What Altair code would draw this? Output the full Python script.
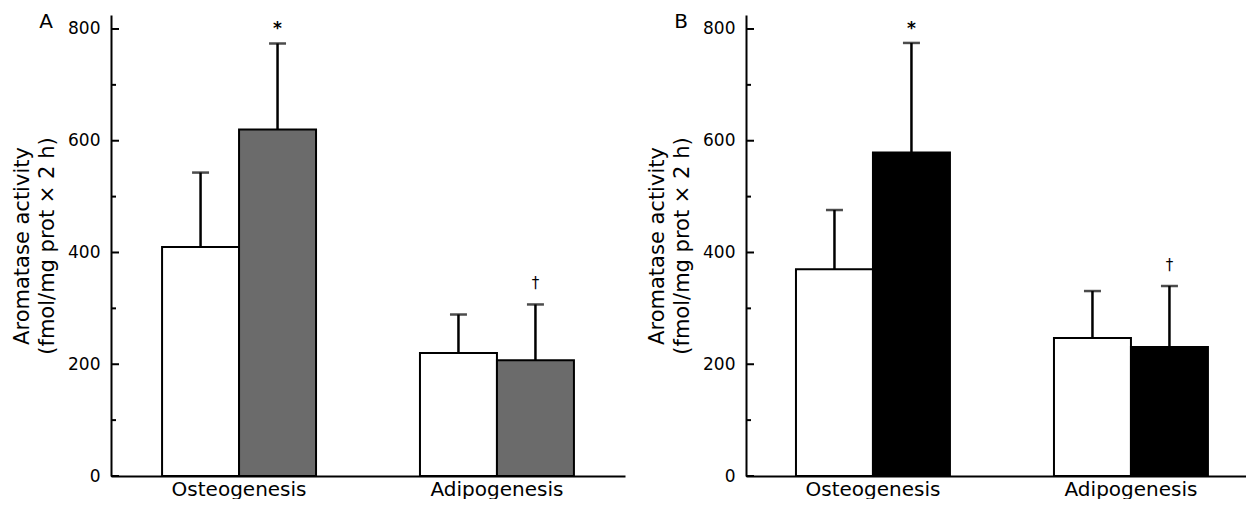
import altair as alt
import pandas as pd

categories = ["Osteogenesis", "Adipogenesis"]
groups = ["Control", "Treated"]

# Panel A values (mean, SD) in order: Osteo-Control, Osteo-Treated, Adipo-Control, Adipo-Treated
a_means = [410, 620, 220, 207]
a_errs = [133, 154, 69, 100]
# Panel B values
b_means = [370, 579, 247, 231]
b_errs = [106, 196, 84, 109]
markers = ["", "*", "", "†"]

y_label_values = [0, 200, 400, 600, 800]
y_minor_values = [100, 300, 500, 700]

FONT = "DejaVu Sans"


def make_df(means, errs):
    rows = []
    i = 0
    for c in categories:
        for g in groups:
            rows.append({"cat": c, "grp": g, "mean": means[i],
                         "upper": means[i] + errs[i], "mark": markers[i]})
            i += 1
    return pd.DataFrame(rows)


def panel(means, errs, fill, letter, xscale, width):
    df = make_df(means, errs)
    yscale = alt.Scale(domain=[0, 825], nice=False, zero=True)
    x = alt.X("cat:N", sort=categories, scale=xscale,
              axis=alt.Axis(title=None, labelAngle=0, ticks=False, domainColor="black",
                            domainWidth=2, labelFont=FONT, labelFontSize=20,
                            labelColor="black", labelPadding=3))
    xo = alt.XOffset("grp:N", sort=groups, scale=alt.Scale(paddingInner=0, paddingOuter=0))
    base = alt.Chart(df)
    bars = base.mark_bar(stroke="black", strokeWidth=2).encode(
        x=x, xOffset=xo,
        y=alt.Y("mean:Q", scale=yscale,
                axis=alt.Axis(values=y_label_values, title=["Aromatase activity", "(fmol/mg prot × 2 h)"],
                              grid=False, tickSize=0, domainColor="black", domainWidth=2,
                              labelFont=FONT, labelFontSize=17, labelColor="black", labelPadding=11,
                              titleFont=FONT, titleFontSize=21, titleFontWeight="normal",
                              titleColor="black", titleLineHeight=25, titlePadding=10)),
        fill=alt.Fill("grp:N", sort=groups, scale=alt.Scale(domain=groups, range=fill), legend=None),
    )
    err = base.mark_rule(color="black", strokeWidth=2.5).encode(
        x=x, xOffset=xo, y=alt.Y("mean:Q", scale=yscale), y2="upper:Q")
    caps = base.mark_tick(color="black", thickness=2.5, size=17).encode(
        x=x, xOffset=xo, y=alt.Y("upper:Q", scale=yscale))
    star = base.transform_filter(alt.datum.mark == "*").mark_text(
        font=FONT, fontSize=17, fontWeight="bold", baseline="alphabetic", dy=-9, color="black"
    ).encode(x=x, xOffset=xo, y=alt.Y("upper:Q", scale=yscale), text="mark:N")
    dag = base.transform_filter(alt.datum.mark == "†").mark_text(
        font=FONT, fontSize=15, baseline="alphabetic", dy=-16, color="black"
    ).encode(x=x, xOffset=xo, y=alt.Y("upper:Q", scale=yscale), text="mark:N")
    major = alt.Chart(pd.DataFrame({"v": y_label_values})).mark_rule(color="black", strokeWidth=2).encode(
        x=alt.value(0), x2=alt.value(8), y=alt.Y("v:Q", scale=yscale))
    minor = alt.Chart(pd.DataFrame({"v": y_minor_values})).mark_rule(color="black", strokeWidth=2).encode(
        x=alt.value(0), x2=alt.value(5), y=alt.Y("v:Q", scale=yscale))
    lab = alt.Chart(pd.DataFrame({"t": [letter]})).mark_text(
        font=FONT, fontSize=20, color="black", align="center", baseline="middle"
    ).encode(x=alt.value(-65), y=alt.value(7), text="t:N")
    return alt.layer(bars, err, caps, star, dag, major, minor, lab).properties(width=width, height=461)


pa = panel(a_means, a_errs, ["white", "#6b6b6b"], "A",
           alt.Scale(paddingInner=0.403, paddingOuter=0.198), 514)
pb = panel(b_means, b_errs, ["white", "black"], "B",
           alt.Scale(paddingInner=0.403, paddingOuter=0.1705, align=0.568), 500)

chart = alt.hconcat(pa, pb, spacing=21).properties(
    padding={"left": 3, "top": 4, "right": 0, "bottom": 0}
).configure_view(strokeWidth=0).resolve_scale(fill="independent", x="independent")

chart.save("out.html", embed_options={"renderer": "svg", "actions": False})
